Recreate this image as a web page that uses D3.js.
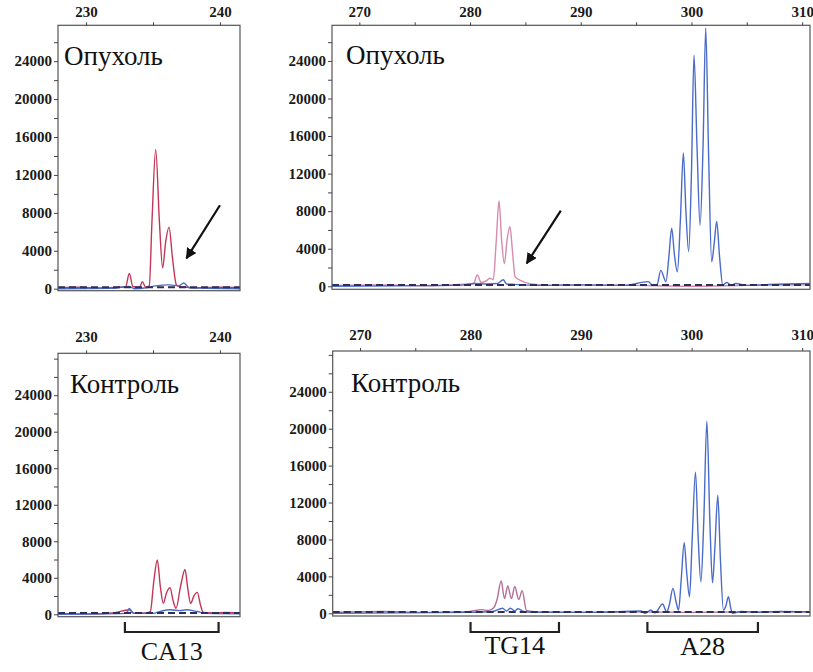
<!DOCTYPE html>
<html><head><meta charset="utf-8">
<script src="https://cdn.jsdelivr.net/npm/d3@7"></script>
<style>body{margin:0;background:#fff}svg{display:block}
svg text{font-family:'Liberation Serif','Times New Roman',serif !important;}
</style>
</head><body>
<svg id="c" width="813" height="672"></svg>
<script>
// ---------- tick labels ----------
const leftXLabels = [230, 240], leftXMinor = [235];
const rightXLabels = [270, 280, 290, 300, 310], rightXMinor = [275, 285, 295, 305];
const yLabels = [0, 4000, 8000, 12000, 16000, 20000, 24000];
const yMinor = [2000, 6000, 10000, 14000, 18000, 22000, 26000, 28000];

// ---------- panel titles ----------
const titleTumor = "Опухоль", titleControl = "Контроль";

// ---------- traces: [size (bp), intensity (RFU)] ----------
const tumorCA13Red = [[227.9,100],[229.5,150],[231,80],[232.5,150],[232.95,200],[233.23,1600],[233.5,200],[234.0,150],[234.2,750],[234.45,150],[234.72,300],[234.92,7000],[235.2,14700],[235.48,7000],[235.72,2200],[235.95,5000],[236.2,6500],[236.45,3300],[236.75,400],[237.0,200],[238.5,100],[240,150],[241.5,100]];
const tumorCA13Blue = [[227.9,0],[232,50],[233.2,250],[233.6,0],[234.5,100],[235.2,300],[236.2,400],[236.9,300],[237.3,600],[237.7,100],[239,50],[241.5,0]];

const tumorTG14Red = [[267.53,100],[272,150],[276,50],[279,200],[280.3,300],[280.66,1200],[281.0,400],[281.5,600],[281.8,850],[282.1,700],[282.35,4500],[282.62,9100],[282.85,5000],[283.1,2400],[283.35,5000],[283.6,6350],[283.85,3500],[284.07,1000],[284.6,600],[285.5,250],[287,100],[290,150],[295,100],[300,0],[305,100],[310.71,150]];
const tumorBlue = [[267.53,0],[279,100],[280.5,300],[281.5,250],[282.5,300],[283.0,700],[283.3,250],[284,200],[286,100],[290,150],[294,100],[296.1,500],[296.5,100],[296.9,200],[297.23,1700],[297.7,500],[297.95,3000],[298.22,6200],[298.45,3500],[298.73,1550],[299.0,7000],[299.27,14200],[299.5,8000],[299.75,3700],[300.0,12000],[300.23,24600],[300.5,15000],[300.78,6500],[301.05,15000],[301.29,27500],[301.55,14000],[301.83,2600],[302.05,4500],[302.28,6900],[302.55,3000],[302.83,150],[303.2,400],[303.6,100],[304,300],[305,100],[307,200],[310.71,300]];

const controlCA13Red = [[227.9,100],[230,50],[232,150],[233.23,500],[233.6,100],[234.5,150],[234.8,300],[235.05,3500],[235.32,5950],[235.55,3000],[235.77,1200],[236.0,2300],[236.27,2900],[236.5,1500],[236.72,650],[237.05,3000],[237.39,4900],[237.6,2800],[237.81,1200],[238.05,2000],[238.31,2400],[238.55,1000],[238.76,200],[239.5,150],[240.5,200],[241.5,100]];
const controlCA13Blue = [[227.9,0],[233.0,100],[233.23,650],[233.5,100],[235,100],[235.5,300],[236.3,500],[237,400],[237.5,500],[238.3,300],[239,100],[241.5,50]];

const controlTG14Red = [[267.53,100],[272,200],[276,100],[279,150],[280,200],[281,400],[281.6,300],[282.1,600],[282.4,1500],[282.77,3500],[283.07,1600],[283.37,2950],[283.7,1600],[284.0,2900],[284.36,1500],[284.67,2450],[285.06,300],[286,150],[290,100],[296,150],[300,100],[305,150],[310.71,150]];
const controlBlue = [[267.53,0],[280,100],[282.0,200],[282.9,550],[283.25,250],[283.6,550],[284.0,250],[284.3,500],[284.8,200],[286,100],[291,100],[295.4,250],[295.8,0],[296.3,350],[296.7,50],[297.37,1000],[297.75,150],[298.0,1000],[298.31,2700],[298.6,1200],[298.82,350],[299.05,3500],[299.33,7650],[299.55,4500],[299.81,1800],[300.05,8000],[300.35,15300],[300.6,8000],[300.84,3400],[301.1,10000],[301.38,20800],[301.65,10000],[301.89,3300],[302.1,7000],[302.37,12800],[302.6,6000],[302.88,350],[303.1,800],[303.33,1800],[303.55,500],[303.7,0],[304.5,200],[306,100],[308,200],[310.71,150]];

const leftBaseline = [[227.9,150],[241.5,150]];
const rightBaseline = [[267.53,150],[310.71,150]];

// ---------- annotations ----------
const arrowTL = {from:[240.0,8800], to:[237.5,3200]};
const arrowTR = {from:[288.2,8050], to:[285.12,2450]};
const bracketNames = ["CA13","TG14","A28"];
const bracketStart = [232.9, 280, 296];
const bracketEnd = [239.9, 288, 306];

// ---------- layout ----------
const svg = d3.select("#c");
const FONT = "'Liberation Serif','Times New Roman',serif";
const defs = svg.append("defs");
defs.append("marker").attr("id","ah").attr("viewBox","0 0 10 10").attr("refX",9).attr("refY",5)
  .attr("markerWidth",5).attr("markerHeight",5).attr("orient","auto-start-reverse").attr("markerUnits","strokeWidth")
  .append("path").attr("d","M0,0 L10,5 L0,10 z").attr("fill","#111");

const panels = [
  {id:"tl", xd:[227.9,241.5], xr:[58,240], yd:[-211,27785], yr:[290.7,25.3], xl:leftXLabels, xm:leftXMinor,
   title:titleTumor, tx:64, ty:65, red:tumorCA13Red, blue:tumorCA13Blue, base:leftBaseline, redColor:"#c43658", blueColor:"#4a6cc4", xlab:5, arrow:arrowTL},
  {id:"tr", xd:[267.53,310.71], xr:[332,810], yd:[-320,27796], yr:[289.3,25.3], xl:rightXLabels, xm:rightXMinor,
   title:titleTumor, tx:346, ty:64, red:tumorTG14Red, blue:tumorBlue, base:rightBaseline, redColor:"#d68aac", blueColor:"#4a6cc8", xlab:5, arrow:arrowTR},
  {id:"bl", xd:[227.9,241.5], xr:[58,240], yd:[-263,28587], yr:[616.7,353.3], xl:leftXLabels, xm:leftXMinor,
   title:titleControl, tx:70, ty:393, red:controlCA13Red, blue:controlCA13Blue, base:leftBaseline, redColor:"#c43658", blueColor:"#4a6cc4", xlab:8},
  {id:"br", xd:[267.53,310.71], xr:[332.7,810], yd:[-293,28418], yr:[616,351], xl:rightXLabels, xm:rightXMinor,
   title:titleControl, tx:351, ty:392, red:controlTG14Red, blue:controlBlue, base:rightBaseline, redColor:"#b27099", blueColor:"#4a6cc8", xlab:8}
];

const scales = {};
panels.forEach(p => {
  const x = d3.scaleLinear().domain(p.xd).range(p.xr);
  const y = d3.scaleLinear().domain(p.yd).range(p.yr);
  scales[p.id] = {x, y};
  const g = svg.append("g");
  defs.append("clipPath").attr("id","clip"+p.id).append("rect")
    .attr("x",p.xr[0]).attr("y",p.yr[1]).attr("width",p.xr[1]-p.xr[0]).attr("height",p.yr[0]-p.yr[1]);
  const line = d3.line().x(d=>x(d[0])).y(d=>y(d[1])).curve(d3.curveMonotoneX);
  const plot = g.append("g").attr("clip-path",`url(#clip${p.id})`);
  plot.append("path").datum(p.red).attr("d",line).attr("fill","none").attr("stroke",p.redColor).attr("stroke-width",1.4);
  plot.append("path").datum(p.blue).attr("d",line).attr("fill","none").attr("stroke",p.blueColor).attr("stroke-width",1.4);
  plot.append("path").datum(p.base).attr("d",line).attr("fill","none").attr("stroke","#2e2e5a")
    .attr("stroke-width",2).attr("stroke-dasharray","7,4");

  // border
  g.append("rect").attr("x",p.xr[0]).attr("y",p.yr[1]).attr("width",p.xr[1]-p.xr[0]).attr("height",p.yr[0]-p.yr[1])
    .attr("fill","none").attr("stroke","#555").attr("stroke-width",1.2);

  // y axis
  const yVals = yLabels.concat(yMinor).filter(v => v <= p.yd[1]);
  const ya = g.append("g").attr("transform",`translate(${p.xr[0]},0)`)
    .call(d3.axisLeft(y).tickValues(yVals).tickSize(4).tickPadding(2).tickFormat(d => yLabels.includes(d) ? d : ""));
  ya.attr("font-family", null);
  ya.select(".domain").remove();
  ya.selectAll("line").attr("stroke","#444");
  ya.selectAll("text").style("font-family",FONT).style("font-weight","bold").style("font-size","15px").attr("fill","#1a1a1a");

  // x axis (top)
  const xa = g.append("g").attr("transform",`translate(0,${p.yr[1]})`)
    .call(d3.axisTop(x).tickValues(p.xl.concat(p.xm)).tickSize(3).tickPadding(p.xlab).tickFormat(d => p.xl.includes(d) ? d : ""));
  xa.attr("font-family", null);
  xa.select(".domain").remove();
  xa.selectAll("line").attr("stroke","#444");
  xa.selectAll("text").style("font-family",FONT).style("font-weight","bold").style("font-size","15px").attr("fill","#1a1a1a");

  // title
  g.append("text").attr("x",p.tx).attr("y",p.ty).text(p.title)
    .style("font-family",FONT).style("font-size","27px").attr("fill","#111");

  // arrow
  if (p.arrow) {
    g.append("line").attr("x1",x(p.arrow.from[0])).attr("y1",y(p.arrow.from[1]))
      .attr("x2",x(p.arrow.to[0])).attr("y2",y(p.arrow.to[1]))
      .attr("stroke","#111").attr("stroke-width",2.2).attr("marker-end","url(#ah)");
  }
});

// brackets
const bracketPanel = ["bl","br","br"];
const bracketTextY = [660, 654, 655];
bracketNames.forEach((name,i) => {
  const x = scales[bracketPanel[i]].x;
  const x0 = x(bracketStart[i]), x1 = x(bracketEnd[i]);
  svg.append("path").attr("d",`M${x0},622 V632 H${x1} V622`).attr("fill","none").attr("stroke","#222").attr("stroke-width",2.2);
  svg.append("text").attr("x",(x0+x1)/2).attr("y",bracketTextY[i]).attr("text-anchor","middle")
    .style("font-family",FONT).style("font-size","26px").attr("fill","#111").text(name);
});
</script>
</body></html>
